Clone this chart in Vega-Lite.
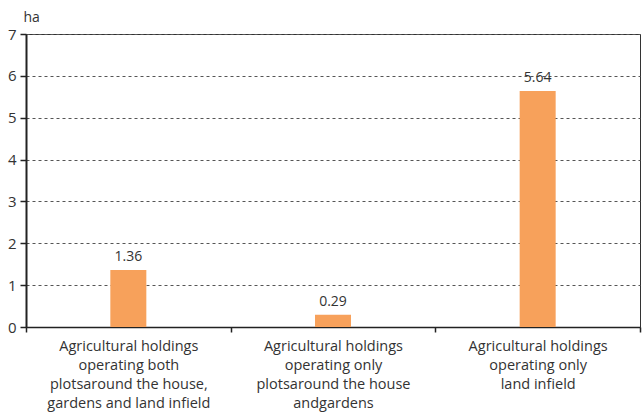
{
  "$schema": "https://vega.github.io/schema/vega-lite/v6.json",
  "width": 614,
  "height": 293,
  "autosize": {"type": "none"},
  "padding": {"left": 26, "top": 34, "right": 3, "bottom": 88},
  "background": "white",
  "config": {
    "font": "Open Sans",
    "view": {"stroke": "#333333", "strokeWidth": 1}
  },
  "data": {
    "values": [
      {"category": "Agricultural holdings|operating both|plotsaround the house,|gardens and land infield", "value": 1.36},
      {"category": "Agricultural holdings|operating only|plotsaround the house|andgardens", "value": 0.29},
      {"category": "Agricultural holdings|operating only|land infield", "value": 5.64}
    ]
  },
  "encoding": {
    "x": {
      "field": "category",
      "type": "nominal",
      "sort": null,
      "scale": {"paddingInner": 0, "paddingOuter": 0},
      "axis": {
        "title": null,
        "labelAngle": 0,
        "labelExpr": "datum.value ? split(datum.value, '|') : ''",
        "labelFontSize": 14.5,
        "labelColor": "#333333",
        "labelLineHeight": 19,
        "labelPadding": 7,
        "labelLimit": 300,
        "tickBand": "extent",
        "tickSize": 5,
        "tickColor": "#222222",
        "tickWidth": 1.5,
        "domainColor": "#222222",
        "domainWidth": 1.5,
        "grid": false
      }
    },
    "y": {
      "field": "value",
      "type": "quantitative",
      "scale": {"domain": [0, 7], "nice": false},
      "axis": {
        "title": "ha",
        "titleAngle": 0,
        "titleAlign": "left",
        "titleBaseline": "middle",
        "titleX": -3,
        "titleY": -17,
        "titleFontSize": 14,
        "titleFontWeight": "normal",
        "titleColor": "#333333",
        "values": [0, 1, 2, 3, 4, 5, 6, 7],
        "labelFontSize": 15,
        "labelColor": "#333333",
        "labelPadding": 4,
        "tickSize": 6,
        "tickColor": "#222222",
        "tickWidth": 1.5,
        "domainColor": "#222222",
        "domainWidth": 2,
        "grid": true,
        "gridColor": "#555555",
        "gridDash": [3, 3],
        "gridWidth": 1
      }
    }
  },
  "layer": [
    {
      "mark": {"type": "bar", "size": 36, "color": "#F7A15B"}
    },
    {
      "mark": {"type": "text", "dy": -6, "fontSize": 14, "color": "#333333", "baseline": "bottom"},
      "encoding": {
        "text": {"field": "value", "type": "quantitative", "format": ".2f"}
      }
    }
  ]
}
